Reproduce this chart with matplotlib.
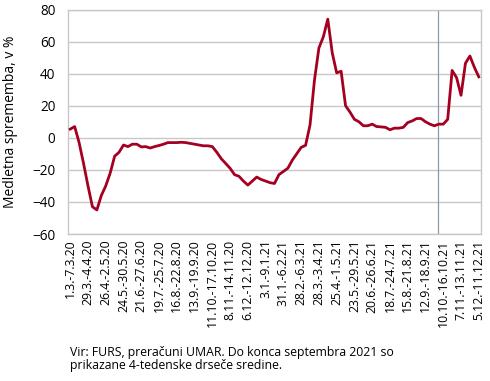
import matplotlib
matplotlib.use("Agg")
import matplotlib.pyplot as plt

plt.rcParams['font.family'] = ['Open Sans', 'DejaVu Sans']

# tedenski podatki, 1.3.2020 - 11.12.2021
vrednosti = [5.4, 7, -3, -16, -30, -43, -45, -36, -30, -22,
             -11.5, -9, -4.5, -5.5, -4, -4, -5.7, -5.5, -6.4, -5.5,
             -4.8, -4, -3, -3, -3, -2.8, -3, -3.5, -4, -4.5,
             -5, -5, -5.5, -9, -13, -16, -19, -23, -24, -27,
             -29.5, -27, -24.5, -26, -27, -28, -28.5, -23, -21, -19,
             -14, -10, -6, -4.7, 8, 36, 56, 63, 74, 53,
             40.5, 41.5, 20, 16, 11.5, 10, 7.5, 7.5, 8.5, 7,
             6.8, 6.5, 5, 6, 6, 6.5, 9.5, 10.5, 12, 12,
             10, 8.5, 7.5, 8.5, 8.5, 11.5, 42, 37.5, 26.5, 46.5,
             51, 44, 38]

oznake = ['1.3.-7.3.20', '29.3.-4.4.20', '26.4.-2.5.20', '24.5.-30.5.20',
          '21.6.-27.6.20', '19.7.-25.7.20', '16.8.-22.8.20', '13.9.-19.9.20',
          '11.10.-17.10.20', '8.11.-14.11.20', '6.12.-12.12.20', '3.1.-9.1.21',
          '31.1.-6.2.21', '28.2.-6.3.21', '28.3.-3.4.21', '25.4.-1.5.21',
          '23.5.-29.5.21', '20.6.-26.6.21', '18.7.-24.7.21', '15.8.-21.8.21',
          '12.9.-18.9.21', '10.10.-16.10.21', '7.11.-13.11.21', '5.12.-11.12.21']

konec_drsecih = 82.9  # konec septembra 2021

fig = plt.figure(figsize=(4.9, 3.81), dpi=100)
ax = fig.add_axes([68/490, 1 - 234/381, 413/490, 224.5/381])

x = list(range(len(vrednosti)))
ax.plot(x, vrednosti, color='#a50021', lw=2, zorder=3)
ax.axvline(konec_drsecih, color='#8a98ab', lw=0.9, zorder=2)

ax.set_xlim(-0.5, len(vrednosti) - 0.5)
ax.set_ylim(-60, 80)
ax.set_yticks(range(-60, 81, 20))
ax.set_xticks(range(0, len(vrednosti), 4))
ax.set_xticklabels(oznake, rotation=90, fontsize=8.8)
ax.tick_params(axis='y', labelsize=9.8, length=0, pad=9)
ax.tick_params(axis='x', length=0, pad=4)
ax.grid(axis='y', color='#c8c8c8', lw=1)
ax.set_axisbelow(True)
for s in ax.spines.values():
    s.set_color('#c8c8c8')
    s.set_linewidth(1)

ax.set_ylabel('Medletna sprememba, v %', fontsize=10, labelpad=10)

fig.text(70/490, 1 - 359/381, 'Vir: FURS, preračuni UMAR. Do konca septembra 2021 so\n'
         'prikazane 4-tedenske drseče sredine.', fontsize=8.8, va='center',
         linespacing=1.0)

fig.savefig('out.png', dpi=100)
